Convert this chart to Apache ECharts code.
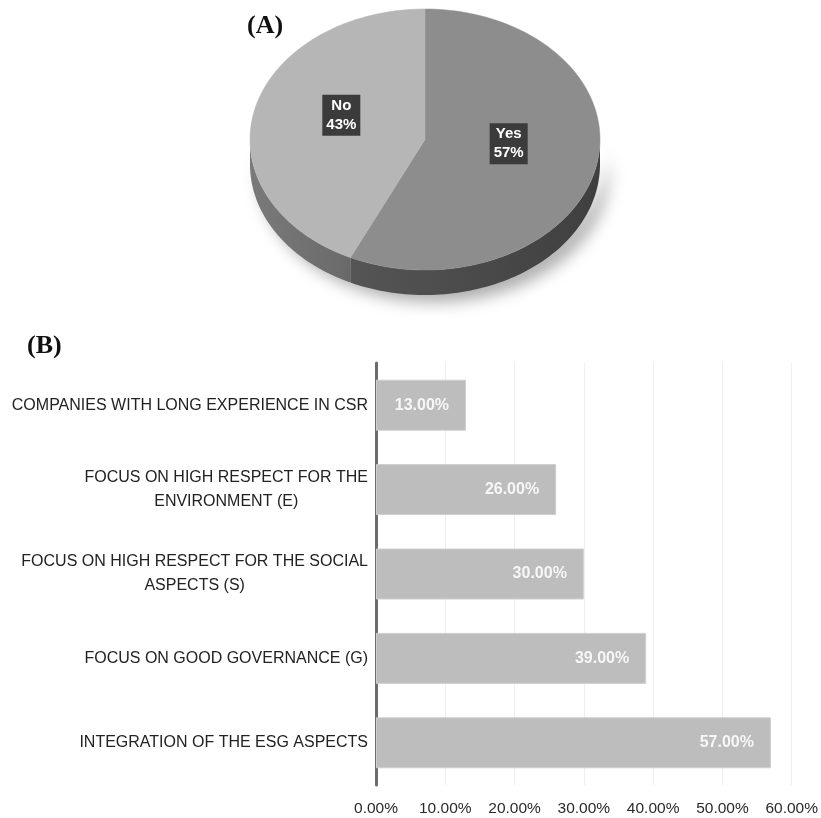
<!DOCTYPE html>
<html>
<head>
<meta charset="utf-8">
<script src="https://cdn.jsdelivr.net/npm/echarts@6/dist/echarts.min.js"></script>
<style>
html,body{margin:0;padding:0;background:#fff;}
#main{width:821px;height:818px;}
</style>
</head>
<body>
<div id="main"></div>
<script>
// ---- Data ----
var pieNames = ['Yes', 'No'];
var pieValues = [57, 43];

var barCategories = [
  'COMPANIES WITH LONG EXPERIENCE IN CSR',
  'FOCUS ON HIGH RESPECT FOR THE\nENVIRONMENT (E)',
  'FOCUS ON HIGH RESPECT FOR THE SOCIAL\nASPECTS (S)',
  'FOCUS ON GOOD GOVERNANCE (G)',
  'INTEGRATION OF THE ESG ASPECTS'
];
var barValues = [13, 26, 30, 39, 57];
var xTicks = [0, 10, 20, 30, 40, 50, 60];

// ---- Styles ----
var pieTopColors = ['#8d8d8d', '#b6b6b6'];
var pieSideColors = [['#3f3f3f', '#555555'], ['#6a6a6a', '#7a7a7a']];
var PIE = {cx: 425, cy: 139.5, rx: 175, ry: 130.5, depth: 25};

var pieTotal = pieValues.reduce(function (a, b) { return a + b; }, 0);

function ept(t, dy) {
  var r = t * Math.PI / 180;
  return [PIE.cx + PIE.rx * Math.sin(r), PIE.cy - PIE.ry * Math.cos(r) + (dy || 0)];
}

function renderPie(params, api) {
  var i = params.dataIndex;
  var before = 0;
  for (var k = 0; k < i; k++) before += pieValues[k];
  var a = before / pieTotal * 360;
  var b = (before + api.value(0)) / pieTotal * 360;
  var children = [];
  // side wall (visible front part: 90..270)
  var s = Math.max(a, 90), e = Math.min(b, 270);
  if (e > s) {
    var pts = [], n = 80, j;
    for (j = 0; j <= n; j++) pts.push(ept(s + (e - s) * j / n, 0));
    for (j = n; j >= 0; j--) pts.push(ept(s + (e - s) * j / n, PIE.depth));
    children.push({
      type: 'polygon', z2: i === 0 ? 2 : 1,
      shape: {points: pts},
      style: {
        fill: new echarts.graphic.LinearGradient(0, 0, 1, 0, [
          {offset: 0, color: pieSideColors[i][1]},
          {offset: 1, color: pieSideColors[i][0]}
        ]),
        shadowBlur: 16, shadowColor: 'rgba(0,0,0,0.33)', shadowOffsetX: 9, shadowOffsetY: 7
      }
    });
  }
  // top face
  var top = [[PIE.cx, PIE.cy]];
  var m = 120;
  for (var q = 0; q <= m; q++) top.push(ept(a + (b - a) * q / m, 0));
  children.push({
    type: 'polygon', z2: 5,
    shape: {points: top},
    style: {fill: pieTopColors[i], stroke: pieTopColors[i], lineWidth: 0.5}
  });
  // label
  var mid = (a + b) / 2;
  var r = mid * Math.PI / 180;
  var lx = PIE.cx + 0.49 * PIE.rx * Math.sin(r);
  var ly = PIE.cy - 0.5 * PIE.ry * Math.cos(r) - 10;
  children.push({
    type: 'text', z2: 10,
    style: {
      x: lx, y: ly,
      text: pieNames[i] + '\n' + Math.round(api.value(0) / pieTotal * 100) + '%',
      fill: '#ffffff', fontSize: 15, fontWeight: 'bold',
      fontFamily: 'Liberation Sans, Arial, sans-serif',
      lineHeight: 19, align: 'center', verticalAlign: 'middle',
      backgroundColor: '#3b3b3b', padding: [2, 4, 1, 4],
      boxShadowBlur: 4, boxShadowColor: 'rgba(0,0,0,0.35)', boxShadowOffsetX: 2, boxShadowOffsetY: 2
    }
  });
  return {type: 'group', children: children};
}

var chart = echarts.init(document.getElementById('main'), null, {renderer: 'canvas'});

chart.setOption({
  backgroundColor: '#ffffff',
  animation: false,
  graphic: [
    {type: 'text', left: 247, top: 13, style: {text: '(A)', font: 'bold 26px "Liberation Serif", "Times New Roman", serif', fill: '#111'}},
    {type: 'text', left: 27, top: 333, style: {text: '(B)', font: 'bold 26px "Liberation Serif", "Times New Roman", serif', fill: '#111'}}
  ],
  grid: {left: 376, right: 25, top: 363, bottom: 33, containLabel: false},
  xAxis: {
    type: 'value', min: xTicks[0], max: xTicks[xTicks.length - 1], interval: 10,
    axisLine: {show: false}, axisTick: {show: false},
    splitLine: {show: true, lineStyle: {color: '#eeeeee', width: 1}},
    axisLabel: {
      margin: 16, fontSize: 15.5, color: '#2a2a2a',
      fontFamily: 'Liberation Sans, Arial, sans-serif',
      formatter: function (v) { return v.toFixed(2) + '%'; }
    }
  },
  yAxis: {
    type: 'category', inverse: true, data: barCategories,
    axisLine: {show: true, lineStyle: {color: '#6b6b6b', width: 3}},
    axisTick: {show: false},
    axisLabel: {
      margin: 8, color: '#222',
      formatter: function (v) {
        return v.split('\n').map(function (l) { return '{c|' + l + '}'; }).join('\n');
      },
      rich: {c: {align: 'center', fontSize: 16, lineHeight: 24, color: '#222', fontFamily: 'Liberation Sans, Arial, sans-serif'}}
    }
  },
  series: [
    {
      type: 'bar', data: barValues, barWidth: 51,
      itemStyle: {color: '#bdbdbd', borderColor: '#cfcfcf', borderWidth: 1},
      label: {
        show: true, position: 'insideRight', distance: 17,
        color: '#f7f7f7', fontWeight: 'bold', fontSize: 16,
        fontFamily: 'Liberation Sans, Arial, sans-serif',
        formatter: function (p) { return p.value.toFixed(2) + '%'; }
      }
    },
    {
      type: 'custom', coordinateSystem: 'none',
      renderItem: renderPie,
      data: pieValues.map(function (v, i) { return {name: pieNames[i], value: [v]}; })
    }
  ]
});
</script>
</body>
</html>
